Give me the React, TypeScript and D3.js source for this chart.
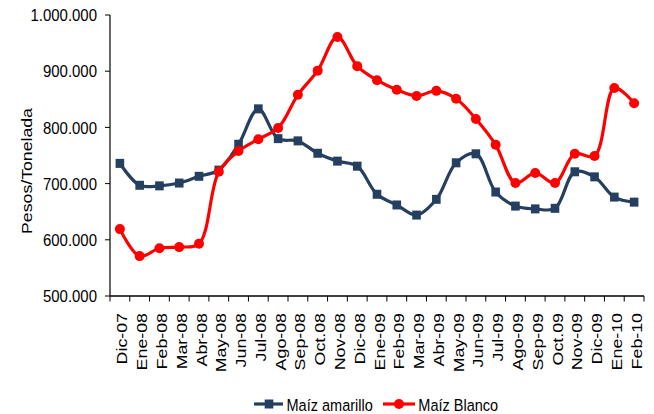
import React from 'react';
import * as d3 from 'd3';

const categories = ['Dic-07','Ene-08','Feb-08','Mar-08','Abr-08','May-08','Jun-08','Jul-08','Ago-08','Sep-08','Oct.08','Nov-08','Dic-08','Ene-09','Feb-09','Mar-09','Abr-09','May-09','Jun-09','Jul-09','Ago-09','Sep-09','Oct.09','Nov-09','Dic-09','Ene-10','Feb-10'];
const maizAmarillo = [736000,697000,696000,701000,713000,724000,770000,833000,780000,776000,754000,740000,731000,681000,662000,644000,672000,737000,753000,685000,660000,655000,656000,721000,712000,676000,667000];
const maizBlanco = [619000,571000,585000,587000,593000,721000,758000,779000,799000,858000,901000,961000,909000,884000,867000,856000,865000,851000,815000,769000,701000,719000,701000,753000,749000,870000,843000];
const yTicks = [500000,600000,700000,800000,900000,1000000];
const seriesNames = ['Maíz amarillo','Maíz Blanco'];

const W = 654, H = 414;
const left = 110, right = 644, top = 15, bottom = 296;
const SX = 0.86;
const FONT = '"Liberation Sans", Arial, sans-serif';
const BLUE = '#243F60';
const RED = '#FF0000';

const fmt = d3.formatLocale({ decimal: ',', thousands: '.', grouping: [3], currency: ['$', ''] }).format(',');

export default function App() {
  const x = d3.scaleBand<string>().domain(categories).range([left, right]).paddingInner(0).paddingOuter(0);
  const y = d3.scaleLinear().domain([500000, 1000000]).range([bottom, top]);
  const cx = (c: string) => (x(c) as number) + x.bandwidth() / 2;
  const line = d3.line<number>()
    .x((_, i) => cx(categories[i]))
    .y(d => y(d))
    .curve(d3.curveCatmullRom.alpha(0.5));

  const tickXs = categories.map(c => x(c) as number).concat([right]);

  return (
    <svg width={W} height={H} style={{ position: 'absolute', left: 0, top: 0, background: '#fff' }} fontFamily={FONT}>
      {/* axes */}
      <line x1={left} y1={top} x2={left} y2={bottom} stroke="#000" strokeWidth={1.2} />
      <line x1={left} y1={bottom} x2={right} y2={bottom} stroke="#000" strokeWidth={1.5} />
      {yTicks.map(t => (
        <g key={t}>
          <line x1={left - 5} x2={left} y1={y(t)} y2={y(t)} stroke="#000" strokeWidth={1} />
          <text transform={`translate(97,${y(t) + 6.2}) scale(${SX},1)`} textAnchor="end" fontSize={17.4} fill="#000">{fmt(t)}</text>
        </g>
      ))}
      {tickXs.map((tx, i) => (
        <line key={i} x1={tx} x2={tx} y1={bottom} y2={bottom + 5.5} stroke="#000" strokeWidth={1} />
      ))}
      {categories.map(c => (
        <text key={c} transform={`translate(${cx(c) + 7.5},313) scale(${SX},1) rotate(-90)`} textAnchor="end" fontSize={17.8} fill="#000">{c}</text>
      ))}
      <text transform={`translate(31.5,171) scale(${SX},1) rotate(-90)`} textAnchor="middle" fontSize={17.7} fill="#000">Pesos/Tonelada</text>

      {/* series */}
      <path d={line(maizAmarillo) || ''} fill="none" stroke={BLUE} strokeWidth={3.2} strokeLinejoin="round" />
      {maizAmarillo.map((v, i) => (
        <rect key={i} x={cx(categories[i]) - 4.3} y={y(v) - 4.5} width={8.6} height={9} fill={BLUE} />
      ))}
      <path d={line(maizBlanco) || ''} fill="none" stroke={RED} strokeWidth={3.2} strokeLinejoin="round" />
      {maizBlanco.map((v, i) => (
        <circle key={i} cx={cx(categories[i])} cy={y(v)} r={5} fill={RED} />
      ))}

      {/* legend */}
      <line x1={254} x2={283} y1={404} y2={404} stroke={BLUE} strokeWidth={3.2} />
      <rect x={269 - 4.3} y={404 - 4.5} width={8.6} height={9} fill={BLUE} />
      <text transform={`translate(286.5,411) scale(0.88,1)`} fontSize={16.5} fill="#000">{seriesNames[0]}</text>
      <line x1={383} x2={415} y1={404} y2={404} stroke={RED} strokeWidth={3.2} />
      <circle cx={399} cy={404} r={5} fill={RED} />
      <text transform={`translate(418.3,411) scale(0.88,1)`} fontSize={16.5} fill="#000">{seriesNames[1]}</text>
    </svg>
  );
}
